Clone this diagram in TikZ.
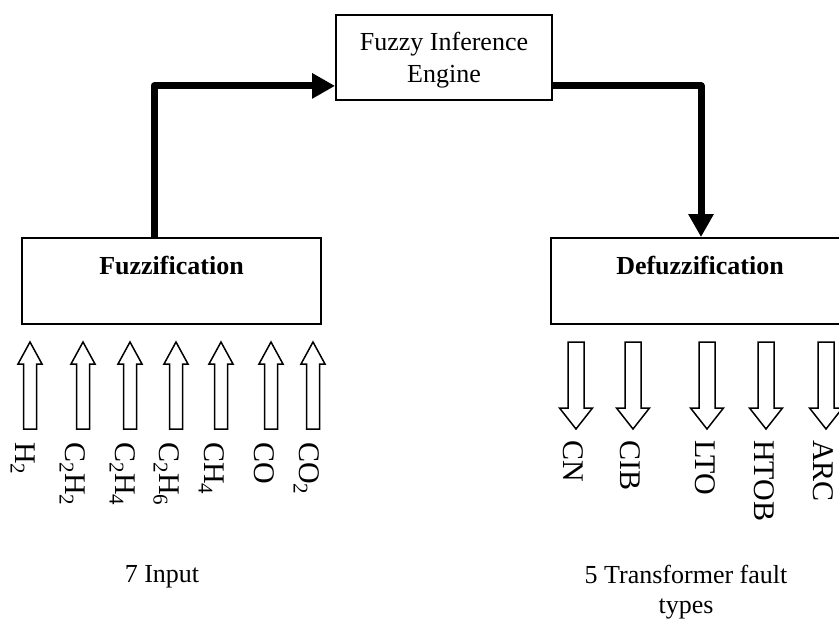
\documentclass[tikz,border=0pt]{standalone}
\usepackage{fontspec}
\setmainfont{Liberation Serif}
\usetikzlibrary{calc,arrows.meta}
\begin{document}
\begin{tikzpicture}[x=1pt,y=-1pt,
  box/.style={draw,line width=1.8pt,rectangle,inner sep=0pt},
  flow/.style={line width=7pt,line join=round,-{Triangle[length=23pt,width=24pt]}},
  txt/.style={font=\fontsize{26}{32}\selectfont,inner sep=0pt,anchor=base,align=center},
  gas/.style={font=\fontsize{30}{36}\selectfont,inner sep=0pt,anchor=base west,rotate=-90},
  fault/.style={font=\fontsize{30}{36}\selectfont,inner sep=0pt,anchor=base west,rotate=-90},
  inarrow/.pic={\draw[line width=1.5pt,line join=miter]
     (0,0) -- (12,22) -- (6.5,22) -- (6.5,87) -- (-6.5,87) -- (-6.5,22) -- (-12,22) -- cycle;},
  outarrow/.pic={\draw[line width=1.5pt,line join=miter]
     (0,87) -- (16.5,66) -- (8,66) -- (8,0) -- (-8,0) -- (-8,66) -- (-16.5,66) -- cycle;}
]
\useasboundingbox (0,0) rectangle (839,619);

% the three processing blocks
\node[box,minimum width=299pt,minimum height=86pt] (fuzz) at (171.5,281) {};
\node[box,minimum width=216pt,minimum height=85pt] (fie) at (444,57.5) {};
\node[box,minimum width=298pt,minimum height=86pt] (defuzz) at (700,281) {};

\node[txt] (fuzzt) at (171.5,274) {\textbf{Fuzzification}};
\node[txt] (fiet) at (444,82) {Fuzzy Inference\\Engine};
\node[txt] (defuzzt) at (700,274) {\textbf{Defuzzification}};

% main flow
\draw[flow] ($(fuzz.north)+(-17.5,0)$) |- ($(fie.south west)+(0,-15)$);
\draw[flow] ($(fie.south east)+(0,-15)$) -| ($(defuzz.north)+(1,0)$);

% seven gas inputs
\foreach \n/\x in {1/30,2/83,3/130,4/176,5/221,6/271,7/313}
  \pic (in\n) at (\x,342) {inarrow};
\node[gas] (g1) at (16,442) {H\textsubscript{2}};
\node[gas] (g2) at (65,442) {C\textsubscript{2}H\textsubscript{2}};
\node[gas] (g3) at (115,442) {C\textsubscript{2}H\textsubscript{4}};
\node[gas] (g4) at (159,442) {C\textsubscript{2}H\textsubscript{6}};
\node[gas] (g5) at (204,442) {CH\textsubscript{4}};
\node[gas] (g6) at (254,442) {CO};
\node[gas] (g7) at (299,442) {CO\textsubscript{2}};

% five fault outputs
\foreach \n/\x in {1/576,2/633,3/707,4/766,5/826}
  \pic (out\n) at (\x,342) {outarrow};
\node[fault] (f1) at (563,440) {CN};
\node[fault] (f2) at (620,440) {CIB};
\node[fault] (f3) at (695,440) {LTO};
\node[fault] (f4) at (754,440) {HTOB};
\node[fault] (f5) at (813,440) {ARC};

% captions
\node[txt] (incap) at (162,582) {7 Input};
\node[txt,font=\fontsize{26}{30}\selectfont] (outcap) at (686,613) {5 Transformer fault\\types};
\end{tikzpicture}
\end{document}
